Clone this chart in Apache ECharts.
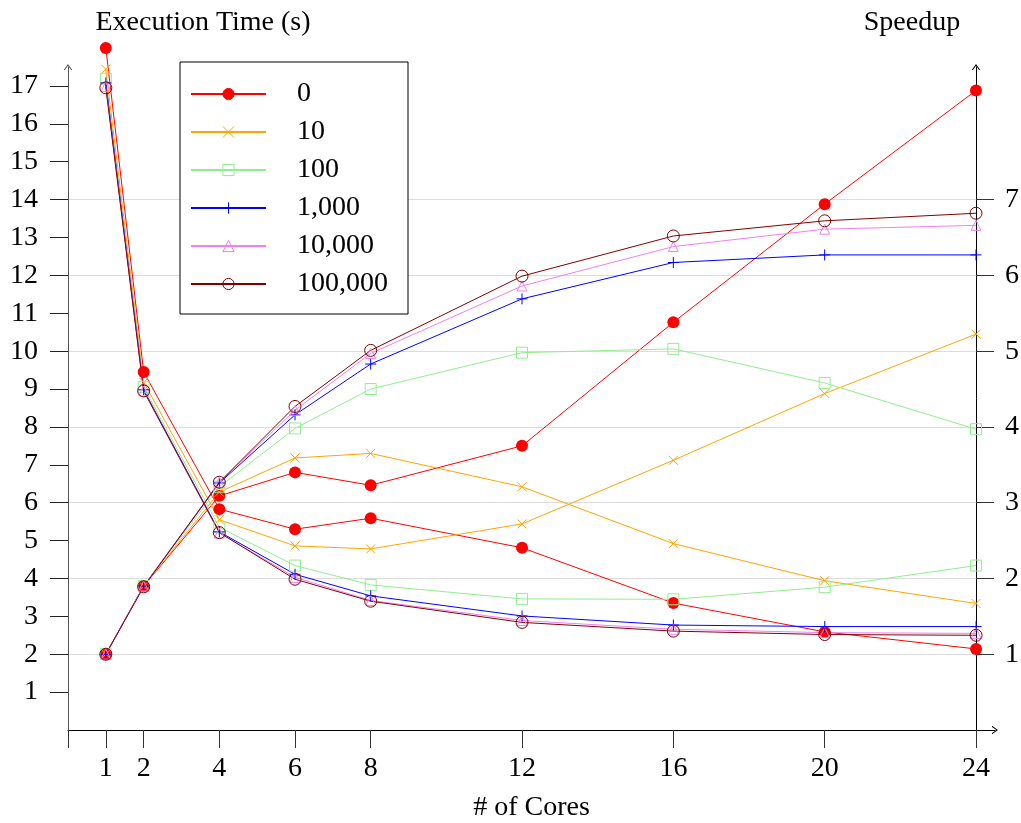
<!DOCTYPE html>
<html>
<head>
<meta charset="utf-8">
<script src="https://cdn.jsdelivr.net/npm/echarts@6/dist/echarts.min.js"></script>
<style>
  html, body { margin: 0; padding: 0; background: #fff; }
  #chart { width: 1021px; height: 823px; }
</style>
</head>
<body>
<div id="chart"></div>
<script>
const cores = [1, 2, 4, 6, 8, 12, 16, 20, 24];
const xTicks = [0, 1, 2, 4, 6, 8, 12, 16, 20, 24];
const xLabels = [1, 2, 4, 6, 8, 12, 16, 20, 24];
const timeTicks = [1, 2, 3, 4, 5, 6, 7, 8, 9, 10, 11, 12, 13, 14, 15, 16, 17];
const speedupTicks = [1, 2, 3, 4, 5, 6, 7];

const names = ['0', '10', '100', '1,000', '10,000', '100,000'];

// execution time (s), left axis
const time0 = [18.0, 9.45, 5.83, 5.30, 5.59, 4.81, 3.35, 2.59, 2.14];
const time10 = [17.44, 9.18, 5.55, 4.86, 4.78, 5.44, 7.12, 8.88, 10.45];
const time100 = [17.19, 9.05, 5.35, 4.34, 3.83, 3.46, 3.45, 3.77, 4.34];
const time1000 = [17.08, 8.98, 5.23, 4.11, 3.54, 3.01, 2.77, 2.73, 2.73];
const time10000 = [16.98, 8.95, 5.20, 4.03, 3.42, 2.89, 2.66, 2.57, 2.55];
const time100000 = [16.95, 8.95, 5.21, 3.98, 3.40, 2.84, 2.61, 2.52, 2.50];

// speedup, right axis
const speedup0 = [1, 1.90, 3.09, 3.40, 3.23, 3.75, 5.38, 6.94, 8.44];
const speedup10 = [1, 1.90, 3.14, 3.59, 3.65, 3.21, 2.46, 1.97, 1.67];
const speedup100 = [1, 1.90, 3.21, 3.98, 4.50, 4.98, 5.03, 4.58, 3.97];
const speedup1000 = [1, 1.90, 3.26, 4.16, 4.83, 5.69, 6.17, 6.27, 6.27];
const speedup10000 = [1, 1.90, 3.27, 4.22, 4.97, 5.86, 6.38, 6.61, 6.66];
const speedup100000 = [1, 1.89, 3.27, 4.27, 5.01, 5.99, 6.52, 6.72, 6.82];

const times = [time0, time10, time100, time1000, time10000, time100000];
const speedups = [speedup0, speedup10, speedup100, speedup1000, speedup10000, speedup100000];

const FONT = 'Liberation Serif';
const FS = 28;

// marker look per series
const looks = [
  { color: '#ff0000', symbol: 'circle', size: 12, fill: '#ff0000', border: 0 },
  { color: '#ffa500', symbol: 'path://M0,0L10,10M10,0L0,10', size: 9, fill: '#ffa500', border: 1 },
  { color: '#90ee90', symbol: 'rect', size: 11, fill: 'transparent', border: 1 },
  { color: '#0000ff', symbol: 'path://M5,0L5,10M0,5L10,5', size: 11, fill: '#0000ff', border: 1 },
  { color: '#ee82ee', symbol: 'triangle', size: 10, fill: 'transparent', border: 1 },
  { color: '#800000', symbol: 'circle', size: 12, fill: 'transparent', border: 1 }
];

const arrowTip = 'path://M0,7L5,0L10,7L8.6,7L5,1.9L1.4,7Z';

function pairs(vals) {
  return cores.map((c, i) => [c, vals[i]]);
}

const series = [];
names.forEach((name, k) => {
  const lk = looks[k];
  const common = {
    name: name,
    type: 'line',
    symbol: lk.symbol,
    symbolSize: lk.size,
    clip: false,
    lineStyle: { color: lk.color, width: 1 },
    itemStyle: { color: lk.fill, borderColor: lk.color, borderWidth: lk.border },
    emphasis: { disabled: true }
  };
  series.push(Object.assign({}, common, { xAxisIndex: 0, yAxisIndex: 0, data: pairs(times[k]) }));
  series.push(Object.assign({}, common, { xAxisIndex: 1, yAxisIndex: 1, data: pairs(speedups[k]) }));
});

const chart = echarts.init(document.getElementById('chart'));
chart.setOption({
  animation: false,
  textStyle: { fontFamily: FONT, color: '#000' },
  grid: [
    { left: 68, right: 26, top: 67, bottom: 93, outerBoundsMode: 'none' },
    { left: 68, right: 45, top: 67, bottom: 93, outerBoundsMode: 'none' }
  ],
  legend: {
    orient: 'vertical',
    left: 180,
    top: 62,
    data: names,
    itemWidth: 75,
    itemHeight: 14,
    itemGap: 10,
    padding: [18, 20, 16, 10],
    borderColor: '#000',
    borderWidth: 1,
    backgroundColor: '#fff',
    selectedMode: false,
    itemStyle: { borderWidth: 1 },
    textStyle: { fontFamily: FONT, fontSize: FS, color: '#000', lineHeight: 28, padding: [0, 0, 0, 26] }
  },
  xAxis: [
    {
      type: 'value', gridIndex: 0, min: 0, max: 24.5,
      name: '# of Cores', nameLocation: 'middle', nameGap: 78,
      nameTextStyle: { fontFamily: FONT, fontSize: FS, color: '#000', verticalAlign: 'middle' },
      axisLine: { show: true, onZero: false, lineStyle: { color: '#000', width: 1 },
        symbol: ['none', arrowTip], symbolSize: [9, 6] },
      axisTick: { show: true, length: 18, customValues: xTicks, lineStyle: { color: '#333' } },
      axisLabel: { customValues: xLabels, margin: 25, fontFamily: FONT, fontSize: FS, color: '#000' },
      splitLine: { show: false }
    },
    {
      type: 'value', gridIndex: 1, min: 0, max: 24, show: false
    }
  ],
  yAxis: [
    {
      type: 'value', gridIndex: 0, position: 'left', min: 0, max: 17.5,
      name: 'Execution Time (s)', nameLocation: 'end', nameGap: 44,
      nameTextStyle: { fontFamily: FONT, fontSize: FS, color: '#000', align: 'center',
        verticalAlign: 'middle', padding: [0, 0, 0, 270] },
      axisLine: { show: true, onZero: false, lineStyle: { color: '#555', width: 1 },
        symbol: ['none', arrowTip], symbolSize: [9, 6] },
      axisTick: { show: true, length: 18, customValues: timeTicks, lineStyle: { color: '#222' } },
      axisLabel: { customValues: timeTicks, margin: 30, fontFamily: FONT, fontSize: FS, color: '#000' },
      splitLine: { show: false }
    },
    {
      type: 'value', gridIndex: 1, position: 'right', min: 0, max: 8.75,
      name: 'Speedup', nameLocation: 'end', nameGap: 44,
      nameTextStyle: { fontFamily: FONT, fontSize: FS, color: '#000', align: 'center',
        verticalAlign: 'middle', padding: [0, 128, 0, 0] },
      axisLine: { show: true, onZero: false, lineStyle: { color: '#000', width: 1 },
        symbol: ['none', arrowTip], symbolSize: [9, 6] },
      axisTick: { show: true, length: 18, customValues: speedupTicks, lineStyle: { color: '#333' } },
      axisLabel: { customValues: speedupTicks, margin: 29, fontFamily: FONT, fontSize: FS, color: '#000' },
      splitLine: { show: true, lineStyle: { color: '#dcdcdc', width: 1 } }
    }
  ],
  series: series
});
</script>
</body>
</html>
